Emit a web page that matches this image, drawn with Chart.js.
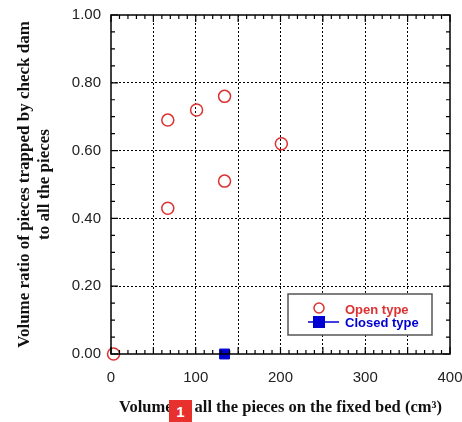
<!DOCTYPE html>
<html>
<head>
<meta charset="utf-8">
<script src="https://cdn.jsdelivr.net/npm/chart.js@4/dist/chart.umd.min.js"></script>
<style>
  body { margin: 0; background: #fff; }
  #wrap { position: relative; width: 462px; height: 422px; }
  #badge { position: absolute; left: 169px; top: 400px; width: 23px; height: 22px; background: #e8302c;
           color: #fff; font: bold 15px "Liberation Sans", Arial, sans-serif; text-align: center; line-height: 24px; }
</style>
</head>
<body>
<div id="wrap">
  <canvas id="grafico"></canvas>
  <div id="badge">1</div>
</div>
<script>
// datos
const openX = [3, 67, 67, 101, 134, 134, 201]
const openY = [0.00, 0.69, 0.43, 0.72, 0.76, 0.51, 0.62]
const closedX = [134]
const closedY = [0.00]
const xTicks = [0, 100, 200, 300, 400]
const yTicks = [0.00, 0.20, 0.40, 0.60, 0.80, 1.00]

const rojo = 'rgb(220, 50, 50)'
const azul = 'rgb(0, 0, 210)'

const toPoints = (xs, ys) => xs.map((x, i) => ({ x: x, y: ys[i] }))

// marco, marcas menores hacia adentro y leyenda dentro del area
const marcoPlugin = {
    id: 'marco',
    afterDraw(chart) {
        const ctx = chart.ctx
        const a = chart.chartArea
        const xs = chart.scales.x
        const ys = chart.scales.y
        ctx.save()
        ctx.strokeStyle = '#000'
        ctx.lineWidth = 1.2
        ctx.setLineDash([])
        ctx.beginPath()
        for (let v = 0; v <= 400; v += 10) {
            const px = xs.getPixelForValue(v)
            const len = v % 50 === 0 ? 7 : 4
            ctx.moveTo(px, a.bottom); ctx.lineTo(px, a.bottom - len)
            ctx.moveTo(px, a.top); ctx.lineTo(px, a.top + len)
        }
        for (let i = 0; i <= 20; i++) {
            const py = ys.getPixelForValue(i * 0.05)
            const len = i % 4 === 0 ? 7 : 4
            ctx.moveTo(a.left, py); ctx.lineTo(a.left + len, py)
            ctx.moveTo(a.right, py); ctx.lineTo(a.right - len, py)
        }
        ctx.stroke()
        ctx.lineWidth = 1.5
        ctx.strokeRect(a.left, a.top, a.right - a.left, a.bottom - a.top)

        // leyenda
        const bx = 288, by = 294, bw = 144, bh = 41
        ctx.fillStyle = '#fff'
        ctx.fillRect(bx, by, bw, bh)
        ctx.strokeStyle = '#555'
        ctx.lineWidth = 1.5
        ctx.strokeRect(bx, by, bw, bh)
        const ds = chart.data.datasets
        ctx.font = 'bold 13px "Liberation Sans", Arial, sans-serif'
        ctx.textBaseline = 'middle'
        // abierto
        ctx.strokeStyle = rojo
        ctx.lineWidth = 1.5
        ctx.beginPath()
        ctx.arc(319, 308, 5, 0, Math.PI * 2)
        ctx.stroke()
        ctx.fillStyle = rojo
        ctx.fillText(ds[0].label, 345, 310)
        // cerrado
        ctx.strokeStyle = azul
        ctx.beginPath()
        ctx.moveTo(308, 322); ctx.lineTo(339, 322)
        ctx.stroke()
        ctx.fillStyle = azul
        ctx.fillRect(313, 316, 12, 12)
        ctx.fillText(ds[1].label, 345, 323)
        ctx.restore()
    }
}

const grafico = document.getElementById('grafico').getContext('2d')
const volumenChart = new Chart(grafico, {
    type: 'scatter',
    data: {
        datasets: [{
            label: 'Open type',
            data: toPoints(openX, openY),
            pointStyle: 'circle',
            pointRadius: 6,
            pointHoverRadius: 6,
            borderColor: rojo,
            backgroundColor: 'rgba(0,0,0,0)',
            borderWidth: 1.5,
            clip: false
        }, {
            label: 'Closed type',
            data: toPoints(closedX, closedY),
            pointStyle: 'rect',
            pointRadius: 7,
            pointHoverRadius: 7,
            borderColor: azul,
            backgroundColor: azul,
            borderWidth: 1,
            clip: false
        }]
    },
    options: {
        responsive: true,
        maintainAspectRatio: false,
        animation: false,
        layout: { padding: { top: 15, right: 12, left: 0, bottom: 0 } },
        plugins: { legend: { display: false }, tooltip: { enabled: false } },
        scales: {
            x: {
                type: 'linear',
                min: 0,
                max: 400,
                afterFit: (scale) => {
                    scale.height = 68
                    scale.paddingLeft = 0
                    scale.paddingRight = 0
                },
                afterBuildTicks: (scale) => {
                    scale.ticks = [0, 50, 100, 150, 200, 250, 300, 350, 400].map(v => ({ value: v }))
                },
                ticks: {
                    autoSkip: false,
                    maxRotation: 0,
                    padding: 15,
                    color: '#222',
                    font: { family: '"Liberation Sans", Arial, sans-serif', size: 15 },
                    callback: (v) => xTicks.includes(v) ? String(v) : ''
                },
                grid: {
                    drawTicks: false,
                    lineWidth: 1,
                    color: (c) => (c.tick && c.tick.value > 0 && c.tick.value < 400) ? '#000' : 'rgba(0,0,0,0)'
                },
                border: { display: false, dash: [2, 2] },
                title: {
                    display: true,
                    text: 'Volume of all the pieces on the fixed bed (cm\u00B3)',
                    color: '#111',
                    font: { family: '"Liberation Serif", "Times New Roman", serif', size: 16.5, weight: 'bold' },
                    padding: { top: 2, bottom: 4 }
                }
            },
            y: {
                type: 'linear',
                min: 0,
                max: 1,
                afterFit: (scale) => {
                    scale.width = 111
                    scale.paddingTop = 0
                    scale.paddingBottom = 0
                },
                afterBuildTicks: (scale) => {
                    scale.ticks = yTicks.map(v => ({ value: v }))
                },
                ticks: {
                    autoSkip: false,
                    padding: 10,
                    color: '#222',
                    font: { family: '"Liberation Sans", Arial, sans-serif', size: 15 },
                    callback: (v) => Number(v).toFixed(2)
                },
                grid: {
                    drawTicks: false,
                    lineWidth: 1,
                    color: (c) => (c.tick && c.tick.value > 0.001 && c.tick.value < 0.999) ? '#000' : 'rgba(0,0,0,0)'
                },
                border: { display: false, dash: [2, 2] },
                title: {
                    display: true,
                    text: ['Volume ratio of pieces trapped by check dam', 'to all the pieces'],
                    color: '#111',
                    font: { family: '"Liberation Serif", "Times New Roman", serif', size: 17, weight: 'bold', lineHeight: 1.15 },
                    padding: { top: 15, bottom: 0 }
                }
            }
        }
    },
    plugins: [marcoPlugin]
})
</script>
</body>
</html>
